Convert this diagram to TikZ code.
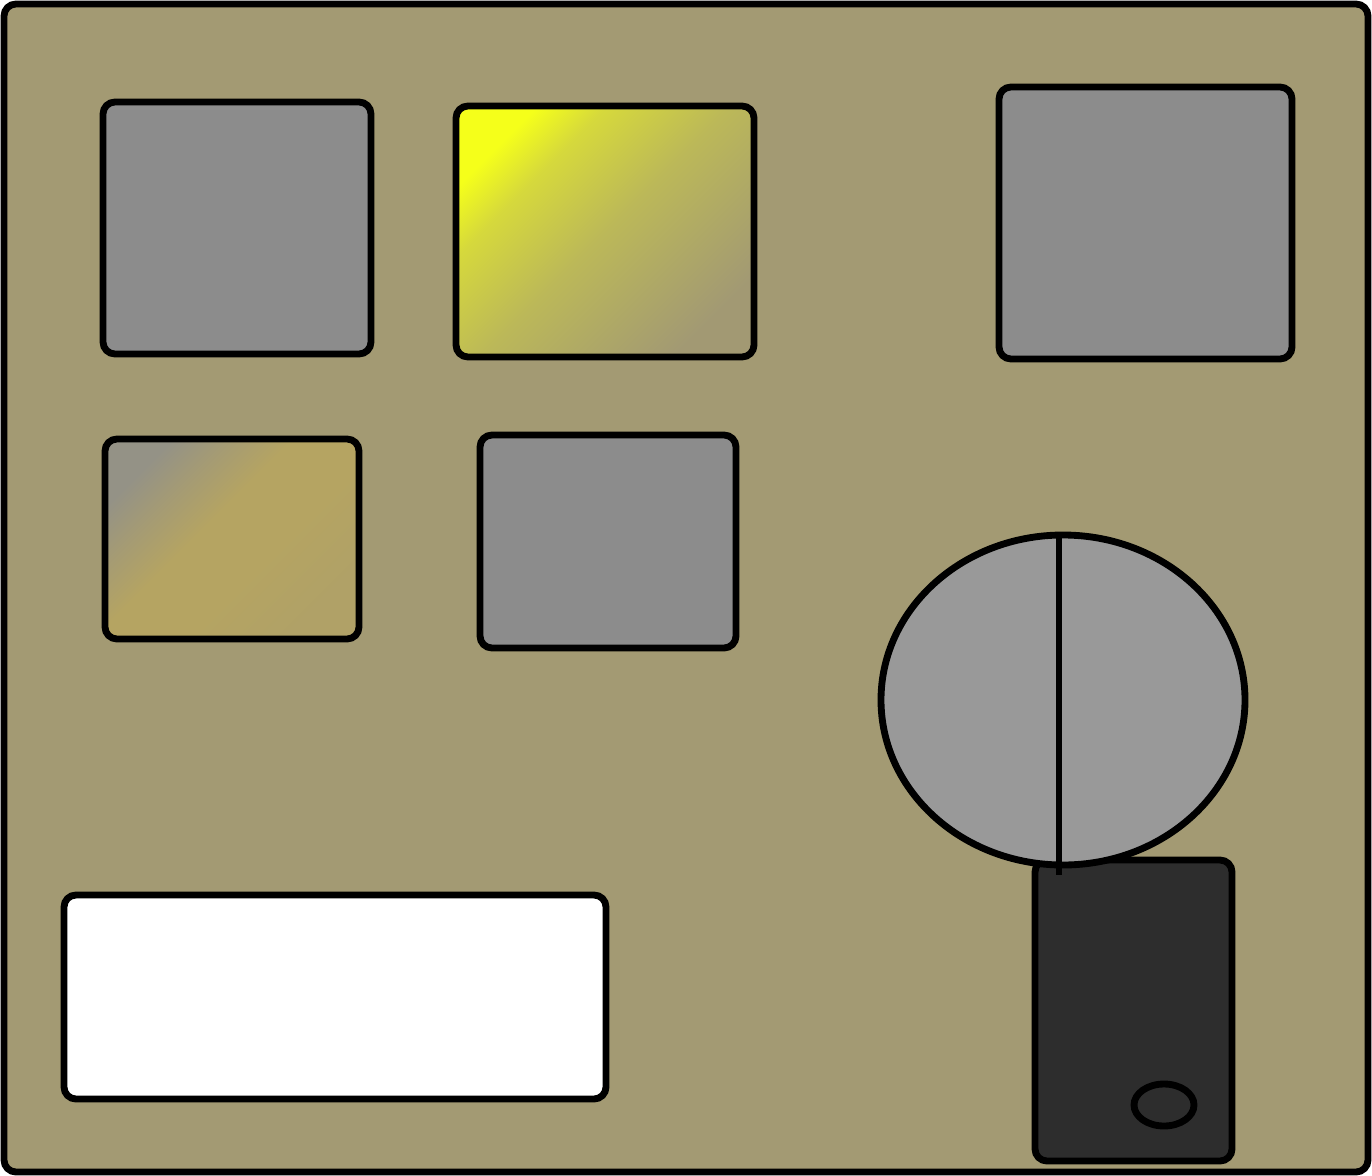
\documentclass[tikz,border=0pt]{standalone}
\usepackage{tikz}
\definecolor{panelbg}{HTML}{A39A73}
\definecolor{keygray}{HTML}{8C8C8C}
\definecolor{knobgray}{HTML}{999999}
\definecolor{gripdark}{HTML}{2D2D2D}
\definecolor{lampyellow}{HTML}{F5FF1A}
\definecolor{lampgold}{HTML}{B5A462}
\definecolor{lampgray}{HTML}{949286}
\pgfdeclareverticalshading{yellowlamp}{100bp}{color(0bp)=(panelbg); color(25bp)=(panelbg!97!gray);
	color(50bp)=(lampyellow!30!panelbg); color(66bp)=(lampyellow!62!panelbg); color(75bp)=(lampyellow); color(100bp)=(lampyellow)}
\pgfdeclareverticalshading{goldlamp}{100bp}{color(0bp)=(lampgold!70!panelbg); color(25bp)=(lampgold!70!panelbg);
	color(42bp)=(lampgold); color(56bp)=(lampgold); color(66bp)=(lampgold!50!lampgray); color(75bp)=(lampgray); color(100bp)=(lampgray)}

\begin{document}
\begin{tikzpicture}[x=0.02cm, y=-0.02cm, line width=3.9pt,
	part/.style={draw=black, rounded corners=0.24cm}]
	\useasboundingbox (0,0) rectangle (1372,1176);
	\draw[part, fill=panelbg] (4,4) rectangle (1368,1172);
	\draw[part, fill=keygray] (103,102) rectangle (371,354);
	\draw[part, shading=yellowlamp, shading angle=45] (456,106) rectangle (754,357);
	\draw[part, fill=keygray] (999,87) rectangle (1292,359);
	\draw[part, shading=goldlamp, shading angle=45] (105,439) rectangle (359,639);
	\draw[part, fill=keygray] (480,435) rectangle (736,648);
	\draw[part, fill=white] (64,895) rectangle (606,1099);
	\draw[part, fill=gripdark] (1035,860) rectangle (1232,1161);
	\draw[fill=gripdark] (1164,1105) ellipse [x radius=30, y radius=21];
	\draw[fill=knobgray] (1063,700) ellipse [x radius=182, y radius=165];
	\draw (1059,535) -- (1059,875);
\end{tikzpicture}
\end{document}
